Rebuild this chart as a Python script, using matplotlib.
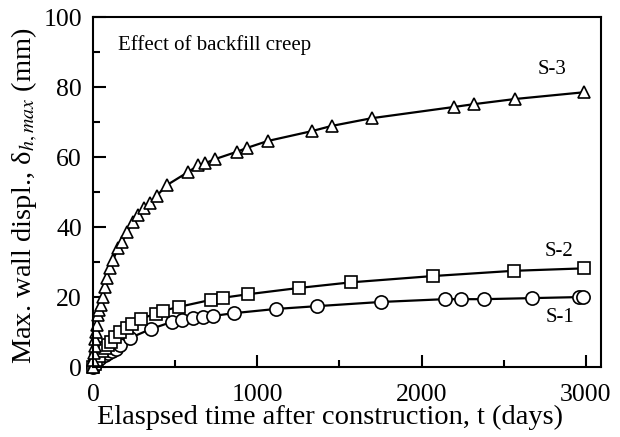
import matplotlib.pyplot as plt
from matplotlib.ticker import MultipleLocator

plt.rcParams["font.family"] = ["Liberation Serif", "DejaVu Serif"]
plt.rcParams["mathtext.fontset"] = "stix"

# S-1 (circles)
t_s1 = [0, 10, 25, 45, 70, 90, 115, 140, 164, 225, 353, 480, 541, 608, 669, 729,
        857, 1112, 1362, 1751, 2140, 2237, 2377, 2669, 2960, 2979]
d_s1 = [0, 0.8, 1.8, 2.6, 3.4, 3.9, 4.5, 5.3, 6.3, 8.3, 10.9, 12.9, 13.4, 14.0, 14.3, 14.6,
        15.4, 16.6, 17.4, 18.6, 19.4, 19.4, 19.4, 19.7, 20.0, 20.0]

# S-2 (squares)
t_s2 = [0, 10, 20, 35, 55, 75, 91, 110, 134, 164, 207, 237, 292, 383, 426, 523,
        717, 790, 942, 1252, 1568, 2066, 2559, 2985]
d_s2 = [0, 1.0, 2.0, 3.2, 4.5, 5.5, 6.3, 7.3, 8.6, 10.0, 11.2, 12.4, 13.8, 15.3, 16.1, 17.2,
        19.2, 19.8, 20.8, 22.6, 24.2, 26.0, 27.5, 28.2]

# S-3 (triangles)
t_s3 = [0, 3, 6, 10, 14, 18, 24, 30, 38, 49, 61, 73, 85, 103, 122, 152, 176, 207, 243,
        275, 310, 347, 389, 450, 578, 640, 681, 742, 875, 936, 1064, 1331, 1453, 1696,
        2195, 2316, 2571, 2985]
d_s3 = [0, 2, 4, 6, 8, 10, 12, 14.9, 16.3, 17.7, 20, 22.9, 25.4, 28.3, 30.6, 34, 35.7,
        38.6, 41.4, 43.5, 45.4, 47, 49, 52, 55.7, 57.6, 58.2, 59.4, 61.5, 62.6, 64.6, 67.4,
        68.9, 71.1, 74.3, 75.1, 76.6, 78.5]

fig = plt.figure(figsize=(6.2, 4.37), dpi=100)
ax = fig.add_axes([0.15, 0.16, 0.819, 0.801])

mk = dict(color="black", lw=1.6, mfc="white", mec="black", mew=1.2, clip_on=False)
ax.plot(t_s1, d_s1, marker="o", ms=9.5, **mk)
ax.plot(t_s2, d_s2, marker="s", ms=8.5, **mk)
ax.plot(t_s3, d_s3, marker="^", ms=9, **mk)

ax.text(2796, 85.0, "S-3", fontsize=15, ha="center", va="center")
ax.text(2833, 33.1, "S-2", fontsize=15, ha="center", va="center")
ax.text(2839, 14.3, "S-1", fontsize=15, ha="center", va="center")
ax.text(150, 92, "Effect of backfill creep", fontsize=15, ha="left", va="center")

ax.set_xlim(0, 3090)
ax.set_ylim(0, 100)
ax.xaxis.set_major_locator(MultipleLocator(1000))
ax.xaxis.set_minor_locator(MultipleLocator(500))
ax.yaxis.set_major_locator(MultipleLocator(20))
ax.yaxis.set_minor_locator(MultipleLocator(10))
ax.tick_params(which="both", direction="in", width=1.5, labelsize=18.5)
ax.tick_params(which="major", length=9)
ax.tick_params(which="minor", length=5)
ax.tick_params(axis="x", which="major", pad=12)
ax.tick_params(axis="y", which="major", pad=8)
for sp in ax.spines.values():
    sp.set_linewidth(1.5)

ax.set_xlabel("Elaspsed time after construction, t (days)", fontsize=20.5,
              labelpad=-1, x=0.466)
ax.set_ylabel(r"Max. wall displ., δ$_{h,max}$ (mm)", fontsize=20.5,
              labelpad=2, y=0.49)

fig.savefig("out.png", dpi=100)
